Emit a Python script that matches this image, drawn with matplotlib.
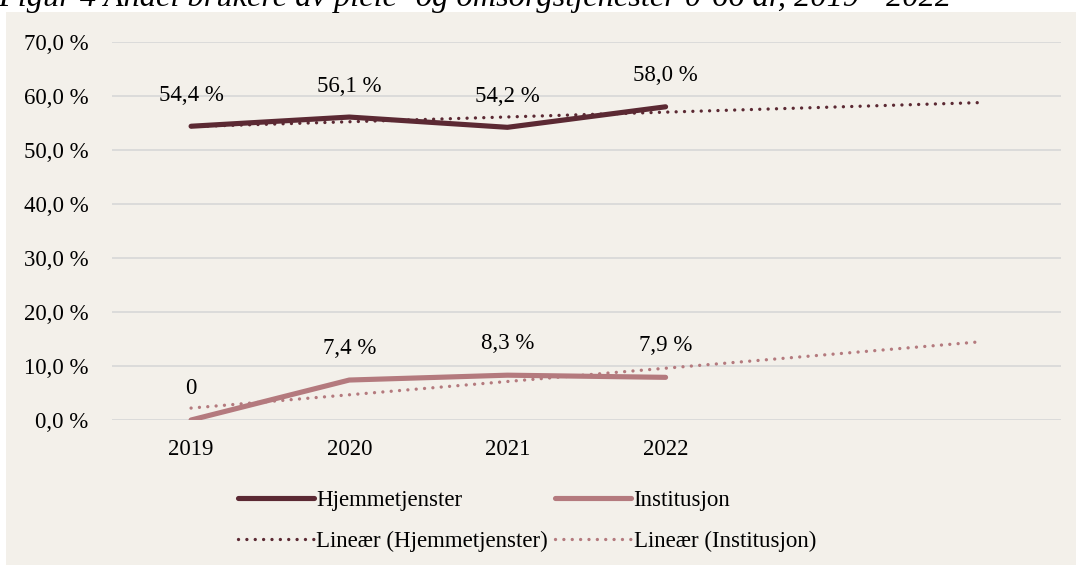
import matplotlib
matplotlib.use("Agg")
import matplotlib.pyplot as plt
import numpy as np

plt.rcParams['font.family'] = ['Liberation Serif', 'DejaVu Serif']

title = "Figur 4 Andel brukere av pleie- og omsorgstjenester 0-66 år, 2019 - 2022"
years = ["2019", "2020", "2021", "2022"]
hjemme = [54.4, 56.1, 54.2, 58.0]
institusjon = [0.0, 7.4, 8.3, 7.9]
hjemme_labels = ["54,4 %", "56,1 %", "54,2 %", "58,0 %"]
inst_labels = ["0", "7,4 %", "8,3 %", "7,9 %"]
yticks = [0, 10, 20, 30, 40, 50, 60, 70]

c_hj = "#5B2933"
c_in = "#B47A7E"
bg = "#F3F0EA"
grid = "#D9D9D9"
fs = 16.5

W, H = 1076, 565
fig = plt.figure(figsize=(W/100, H/100), dpi=100)
fig.patch.set_facecolor("white")

bgax = fig.add_axes([6/W, 0, 1 - 6/W, (H-12)/H], zorder=-5)
bgax.set_facecolor(bg)
bgax.set_xticks([]); bgax.set_yticks([])
for s in bgax.spines.values():
    s.set_visible(False)

fig.text(-2/W, 1 - 6/H, title, fontsize=23.3, style="italic", ha="left", va="baseline")

ax = fig.add_axes([112/W, (H-420)/H, 949/W, 378/H], zorder=1)
ax.set_facecolor("none")
x = np.arange(len(years))
xt = np.arange(0, 6)

l1, = ax.plot(x, hjemme, color=c_hj, lw=3.7, solid_capstyle="round", label="Hjemmetjenster", zorder=3)
l2, = ax.plot(x, institusjon, color=c_in, lw=3.7, solid_capstyle="round", label="Institusjon", zorder=3)

p1 = np.polyfit(x, hjemme, 1)
p2 = np.polyfit(x, institusjon, 1)
dots = (0, (0.01, 2.5))
t1, = ax.plot(xt, np.polyval(p1, xt), color=c_hj, lw=2.4, linestyle=dots,
              dash_capstyle="round", label="Lineær (Hjemmetjenster)", zorder=4)
t2, = ax.plot(xt, np.polyval(p2, xt), color=c_in, lw=2.4, linestyle=dots,
              dash_capstyle="round", label="Lineær (Institusjon)", zorder=4)

for xi, v, s in zip(x, hjemme, hjemme_labels):
    ax.annotate(s, (xi, v), xytext=(0, 31), textcoords="offset pixels",
                ha="center", va="center", fontsize=fs)
for xi, v, s in zip(x, institusjon, inst_labels):
    ax.annotate(s, (xi, v), xytext=(0, 32), textcoords="offset pixels",
                ha="center", va="center", fontsize=fs)

ax.set_xlim(-0.5, 5.5)
ax.set_ylim(0, 70)
ax.set_yticks(yticks)
ax.set_yticklabels([f"{t:.1f} %".replace(".", ",") for t in yticks], fontsize=fs)
ax.set_xticks(x)
ax.set_xticklabels(years, fontsize=fs)
ax.tick_params(axis="y", length=0, pad=17)
ax.tick_params(axis="x", length=0, pad=14)
ax.grid(axis="y", color=grid, lw=1.3)
ax.set_axisbelow(True)
for s in ax.spines.values():
    s.set_visible(False)

leg = fig.legend([l1, t1, l2, t2],
                 ["Hjemmetjenster", "Lineær (Hjemmetjenster)", "Institusjon", "Lineær (Institusjon)"],
                 loc="center", bbox_to_anchor=(527/W, 1 - 521/H), ncol=2, frameon=False,
                 fontsize=fs, handlelength=3.3, handletextpad=0.12, columnspacing=0.3,
                 labelspacing=0.85)

fig.savefig("out.png", dpi=100, facecolor=fig.get_facecolor())
